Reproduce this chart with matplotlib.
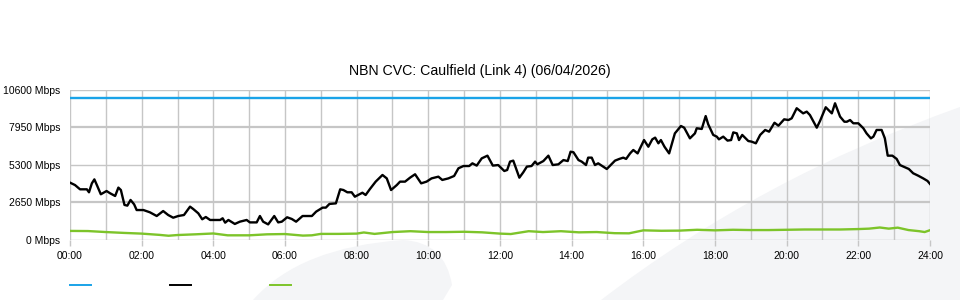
import matplotlib
matplotlib.use("Agg")
import matplotlib.pyplot as plt
from matplotlib.path import Path
from matplotlib.patches import PathPatch
from matplotlib.lines import Line2D

plt.rcParams['font.family'] = ['Liberation Sans', 'DejaVu Sans']

# ===== データ =====
TITLE = "NBN CVC: Caulfield (Link 4) (06/04/2026)"
CAPACITY = 10000  # Mbps

traffic_hours = [
    0.00, 0.14, 0.28, 0.47, 0.53, 0.61, 0.68, 0.75, 0.86, 1.02, 1.12, 1.26, 1.35, 1.42,
    1.52, 1.60, 1.69, 1.79, 1.86, 2.05, 2.23, 2.42, 2.60, 2.74, 2.88, 3.02, 3.18, 3.35,
    3.44, 3.58, 3.69, 3.79, 3.91, 4.05, 4.19, 4.26, 4.33, 4.42, 4.60, 4.74, 4.93, 5.02,
    5.21, 5.30, 5.39, 5.53, 5.70, 5.81, 5.91, 6.06, 6.19, 6.31, 6.49, 6.75, 6.87, 7.05,
    7.14, 7.24, 7.42, 7.54, 7.63, 7.74, 7.86, 7.95, 8.09, 8.16, 8.25, 8.37, 8.53, 8.72,
    8.84, 8.96, 9.12, 9.21, 9.35, 9.49, 9.63, 9.80, 9.95, 10.09, 10.28, 10.39, 10.56,
    10.72, 10.84, 10.98, 11.14, 11.23, 11.35, 11.49, 11.65, 11.80, 11.95, 12.12, 12.20,
    12.28, 12.37, 12.54, 12.65, 12.75, 12.88, 12.98, 13.04, 13.21, 13.35, 13.47, 13.63,
    13.77, 13.89, 13.97, 14.05, 14.19, 14.28, 14.40, 14.46, 14.56, 14.65, 14.74, 14.98,
    15.21, 15.33, 15.44, 15.52, 15.63, 15.72, 15.84, 16.02, 16.14, 16.25, 16.33, 16.42,
    16.49, 16.59, 16.72, 16.88, 17.05, 17.14, 17.30, 17.44, 17.49, 17.63, 17.74, 17.81,
    17.95, 18.05, 18.11, 18.23, 18.35, 18.45, 18.51, 18.61, 18.67, 18.76, 18.93, 19.02,
    19.14, 19.26, 19.40, 19.51, 19.66, 19.77, 19.93, 20.05, 20.14, 20.28, 20.46, 20.56,
    20.65, 20.84, 20.93, 21.09, 21.21, 21.26, 21.35, 21.49, 21.61, 21.68, 21.77, 21.86,
    22.00, 22.14, 22.23, 22.35, 22.42, 22.51, 22.65, 22.74, 22.82, 22.95, 23.07, 23.16,
    23.30, 23.41, 23.53, 23.67, 23.81, 23.93, 24.00,
]
traffic_mbps = [
    4040, 3870, 3570, 3570, 3360, 3990, 4270, 3870, 3220, 3450, 3290, 3100, 3690, 3520,
    2470, 2420, 2820, 2510, 2110, 2110, 1950, 1690, 2040, 1760, 1570, 1690, 1760, 2350,
    2180, 1880, 1460, 1620, 1410, 1410, 1410, 1530, 1220, 1410, 1130, 1290, 1410, 1240,
    1240, 1690, 1290, 1100, 1690, 1240, 1290, 1600, 1480, 1290, 1690, 1690, 2000, 2280,
    2280, 2540, 2580, 3570, 3520, 3360, 3360, 3050, 3240, 3330, 3170, 3590, 4110, 4580,
    4340, 3520, 3870, 4110, 4110, 4390, 4630, 3990, 4110, 4340, 4460, 4230, 4340,
    4510, 5050, 5210, 5210, 5400, 5240, 5750, 5940, 5240, 5280, 4860, 4930,
    5520, 5590, 4390, 4770, 5170, 5210, 5520, 5330, 5560, 5940, 5280, 5330,
    5630, 5560, 6220, 6180, 5630, 5520, 5280, 5800, 5800, 5280, 5400, 5000,
    5590, 5710, 5800, 5710, 6100, 6340, 6100, 7040, 6570, 7090, 7210, 6810,
    7040, 6570, 6100, 7510, 8030, 7910, 7160, 7510, 7870, 7820, 8730, 8150,
    7400, 7280, 7090, 7280, 7000, 7040, 7580, 7510, 7040, 7400, 6970, 6930,
    6810, 7400, 7750, 7630, 8260, 8050, 8500, 8450, 8570, 9280, 8920, 9040,
    8800, 7910, 8380, 9350, 9040, 8920, 9630, 8690, 8330, 8330, 8450, 8220,
    8220, 7870, 7510, 7160, 7280, 7750, 7750, 7160, 5940, 5940, 5710, 5280,
    5120, 5000, 4700, 4530, 4340, 4160, 3950,
]

upload_hours = [
    0.0, 0.5, 1.0, 1.5, 2.0, 2.5, 2.75, 3.0, 3.5, 4.0, 4.4, 5.0, 5.5, 6.0, 6.5, 6.75,
    7.0, 7.5, 8.0, 8.2, 8.5, 9.0, 9.5, 10.0, 10.5, 11.0, 11.5, 12.0, 12.3, 12.8, 13.2,
    13.7, 14.2, 14.7, 15.2, 15.6, 16.0, 16.5, 17.0, 17.5, 18.0, 18.5, 19.0, 19.5, 20.0,
    20.5, 21.0, 21.5, 22.0, 22.3, 22.6, 22.85, 23.1, 23.4, 23.7, 23.85, 24.0,
]
upload_mbps = [
    640, 630, 560, 500, 450, 360, 300, 350, 400, 460, 330, 330, 400, 420, 310, 330,
    430, 430, 450, 530, 430, 560, 620, 560, 560, 580, 540, 450, 420, 620, 560,
    620, 540, 560, 480, 470, 680, 650, 660, 720, 680, 720, 700, 700, 720,
    740, 740, 740, 770, 800, 880, 800, 870, 700, 620, 560, 690,
]

y_ticks = [0, 2650, 5300, 7950, 10600]
x_ticks = list(range(0, 25, 2))
x_labels = [f"{h:02d}:00" for h in x_ticks]

BLUE = "#1aa3e8"
GREEN = "#7dc42a"
GRID = "#c6c6c6"
WATERMARK = "#f4f5f7"

W, H = 960, 300


def px(x, y):
    return (x / W, 1 - y / H)


fig = plt.figure(figsize=(9.6, 3.0), dpi=100)

# ===== 背景の透かし =====
blade = Path(
    [px(253, 300), px(300, 247), px(403, 240), px(445, 242), px(452, 285),
     px(443, 300), px(253, 300)],
    [Path.MOVETO, Path.CURVE3, Path.CURVE3, Path.CURVE3, Path.CURVE3,
     Path.LINETO, Path.CLOSEPOLY],
)
swoosh = Path(
    [px(601, 300), px(760, 178), px(960, 107), px(960, 300), px(601, 300)],
    [Path.MOVETO, Path.CURVE3, Path.CURVE3, Path.LINETO, Path.CLOSEPOLY],
)
for p in (blade, swoosh):
    fig.add_artist(PathPatch(p, transform=fig.transFigure, facecolor=WATERMARK,
                             edgecolor="none", zorder=0))

ax = fig.add_axes([70 / W, 1 - 240 / H, 860 / W, 150.5 / H])
ax.set_facecolor("none")
ax.set_zorder(1)

# グリッド
for h in range(0, 25):
    ax.axvline(h, color=GRID, lw=1.0, zorder=1)
for v in y_ticks:
    ax.axhline(v, color=GRID, lw=1.6 if v in (2650, 7950) else 1.0, zorder=1)

ax.axhline(CAPACITY, color=BLUE, lw=1.7, zorder=3)
ax.plot(upload_hours, upload_mbps, color=GREEN, lw=1.7, zorder=3)
ax.plot(traffic_hours, traffic_mbps, color="black", lw=1.7, zorder=4)

ax.set_xlim(0, 24)
ax.set_ylim(0, 10600)
ax.set_xticks(x_ticks)
ax.set_xticklabels(x_labels)
ax.set_yticks(y_ticks)
ax.set_yticklabels([f"{v} Mbps" for v in y_ticks])
ax.tick_params(axis="x", length=4, width=1, color=GRID, pad=4, labelsize=7.5)
ax.tick_params(axis="y", length=0, pad=7, labelsize=7.5)
for s in ax.spines.values():
    s.set_visible(False)

fig.text(0.5, 1 - 71 / H, TITLE, ha="center", va="center", fontsize=10.2)

# 凡例(ラベルなし)
for x0, c in ((70, BLUE), (170, "black"), (270, GREEN)):
    fig.add_artist(Line2D([x0 / W, (x0 + 21) / W], [1 - 285 / H] * 2,
                          transform=fig.transFigure, color=c, lw=1.4))

fig.savefig("out.png", dpi=100)
